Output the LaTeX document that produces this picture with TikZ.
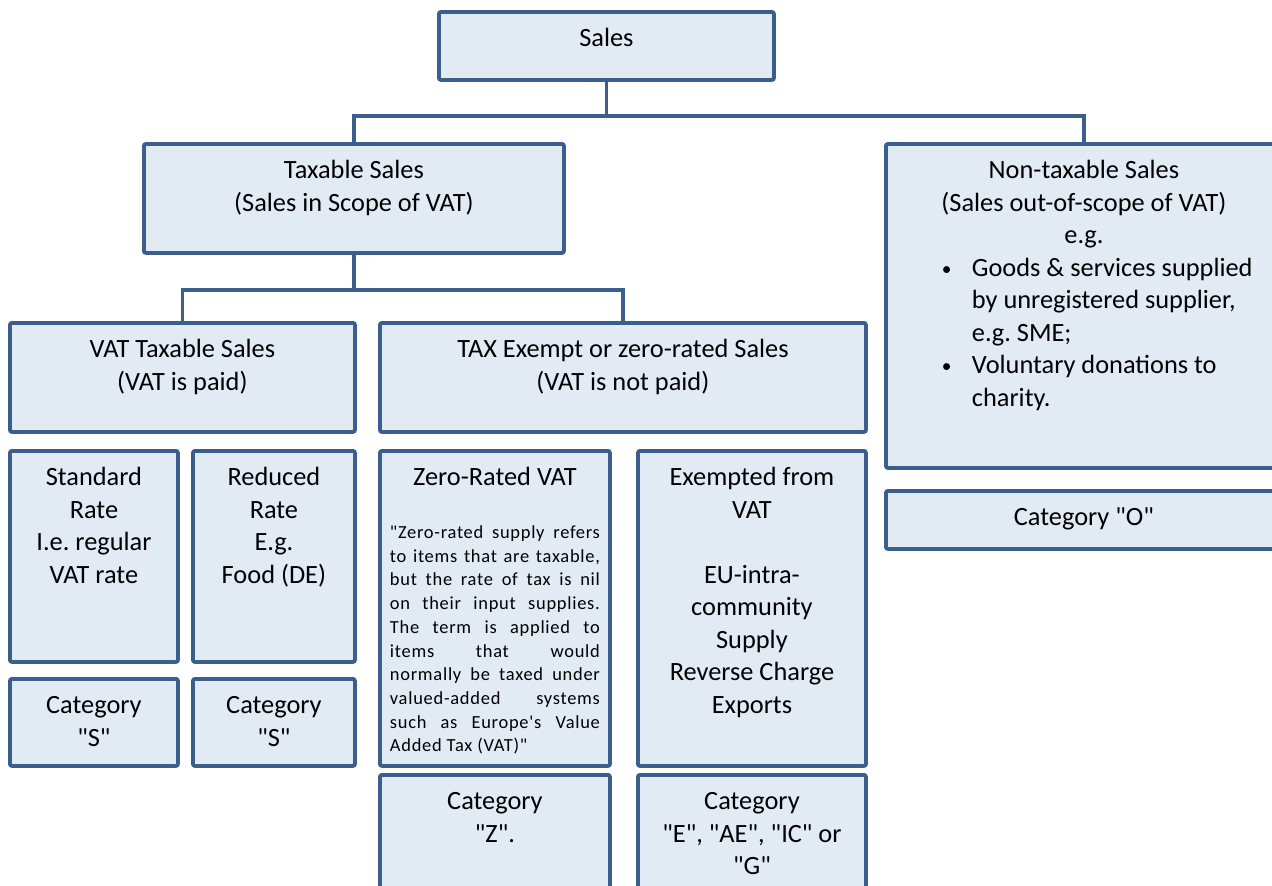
\documentclass[tikz,border=0pt]{standalone}
\usepackage{fontspec}
\setmainfont{Carlito}[Ligatures=TeXOff]
\definecolor{boxline}{HTML}{3A5F8C}
\definecolor{boxfill}{HTML}{E2EAF4}
\newlength{\pxu}
\setlength{\pxu}{0.02cm}
\newcommand{\cell}[3]{\parbox[c][#2\pxu][t]{#1\pxu}{\centering\frenchspacing\rule{0pt}{35\pxu}#3}}
\newcommand{\dotitem}{\makebox[29\pxu][l]{\hspace*{-1\pxu}\raisebox{1\pxu}{\fontsize{11}{11}\selectfont\textbullet}}}

\begin{document}
\begin{tikzpicture}[x=0.02cm,y=-0.02cm,
    box/.style={draw=boxline,fill=boxfill,line width=2.2pt,rounded corners=1.2pt,
        inner sep=0pt,anchor=north west,font=\fontsize{15}{18.5}\selectfont},
    link/.style={draw=boxline,line width=2.2pt}]
    \clip (0,0) rectangle (1272,886);

    \node[box] (sales) at (437,10) {\cell{335}{68}{Sales}};
    \node[box] (taxable) at (142,142) {\cell{420}{109}{Taxable Sales\\(Sales in Scope of VAT)}};
    \node[box] (nontax) at (884,142) {\cell{396}{324}{Non-taxable Sales\\(Sales out-of-scope of VAT)\\e.g.\par
        \leftskip=57\pxu\rightskip=0pt plus 1fil
        \dotitem Goods \& services supplied\\
        \hspace*{29\pxu}by unregistered supplier,\\
        \hspace*{29\pxu}e.g. SME;\\
        \dotitem Voluntary donations to\\
        \hspace*{29\pxu}charity.}};
    \node[box] (catO) at (884,489) {\cell{396}{58}{Category "O"}};

    \node[box] (vattax) at (8,321) {\cell{345}{109}{VAT Taxable Sales\\(VAT is paid)}};
    \node[box] (exempt) at (378,321) {\cell{486}{109}{TAX Exempt or zero-rated Sales\\(VAT is not paid)}};

    \node[box] (standard) at (8,449) {\cell{168}{211}{Standard\\Rate\\I.e. regular\\VAT rate}};
    \node[box] (reduced) at (191,449) {\cell{162}{211}{Reduced\\Rate\\E.g.\\Food (DE)}};
    \node[box] (catS1) at (8,677) {\cell{168}{87}{Category\\"S"}};
    \node[box] (catS2) at (191,677) {\cell{162}{87}{Category\\"S"}};

    \node[box] (zero) at (378,449) {\cell{230}{315}{Zero-Rated VAT\\[20\pxu]\parbox[t]{210\pxu}{\fontsize{10.5}{13.5}\selectfont\addfontfeatures{LetterSpace=4}
        "Zero-rated supply refers\linebreak to items that are taxable,\linebreak
        but the rate of tax is nil\linebreak on their input supplies.\linebreak
        The term is applied to\linebreak items that would\linebreak
        normally be taxed under\linebreak valued-added systems\linebreak
        such as Europe's Value\linebreak Added Tax (VAT)"}}};
    \node[box] (exempted) at (636,449) {\cell{228}{315}{Exempted from\\VAT\\[18.5pt]EU-intra-\\community\\Supply\\Reverse Charge\\Exports}};
    \node[box] (catZ) at (378,773) {\cell{230}{130}{Category\\"Z".}};
    \node[box] (catE) at (636,773) {\cell{228}{130}{Category\\"E", "AE", "IC" or\\"G"}};

    \draw[link] (sales.south) -- ++(0,34) -| (taxable.north);
    \draw[link] (sales.south) -- ++(0,34) -| (nontax.north);
    \draw[link] (taxable.south) -- ++(0,35) -| (vattax.north);
    \draw[link] (taxable.south) -- ++(0,35) -| (exempt.north);
\end{tikzpicture}
\end{document}
